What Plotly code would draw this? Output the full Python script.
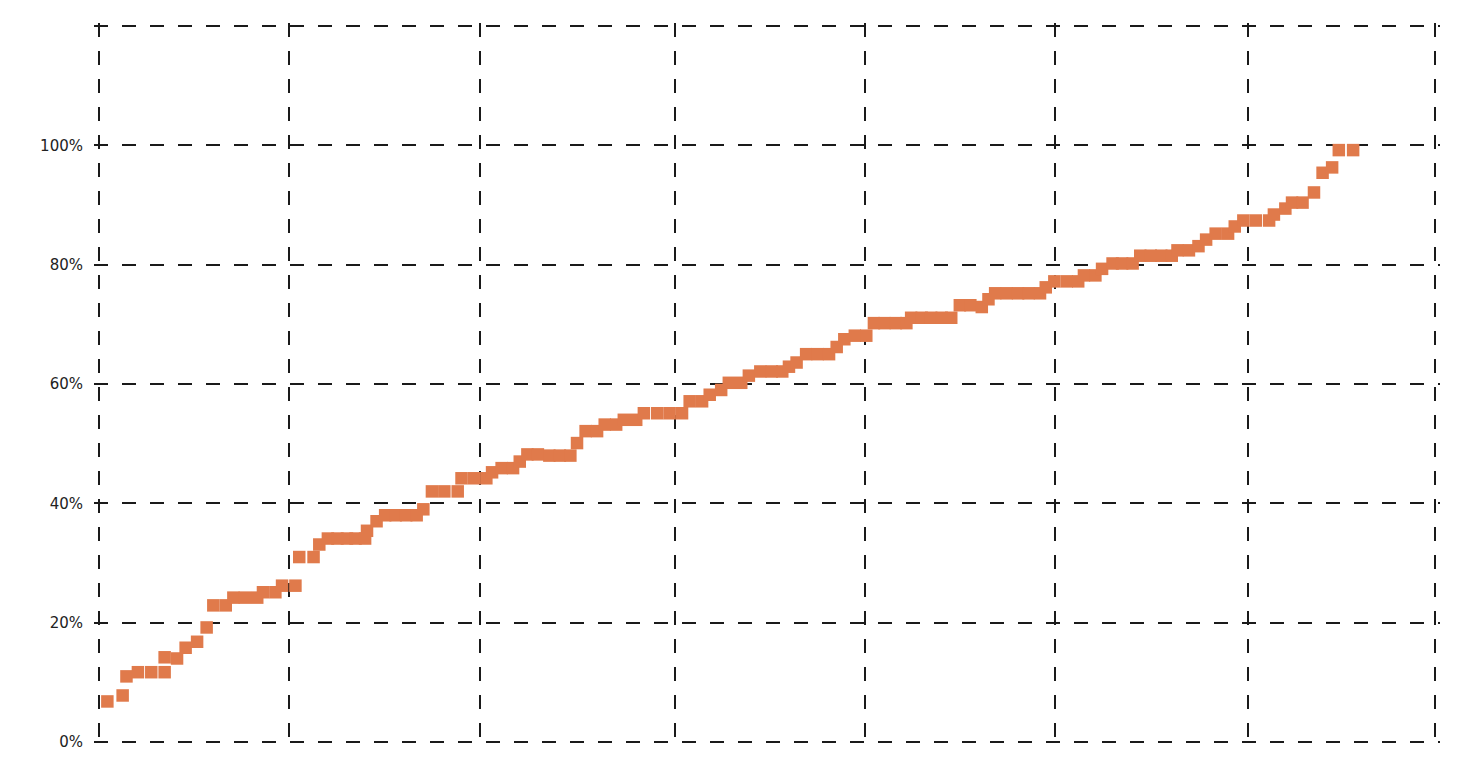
import plotly.graph_objects as go

# x: position along the ranked axis (grid every ~20 units), y: percentage
x_vals = [
    0.9, 2.5, 2.9, 4.1, 5.5, 6.9, 6.9, 8.2, 9.1, 10.3, 11.3,
    12.0, 13.3, 14.1, 15.3, 16.6, 17.2, 18.5, 19.2, 20.6,
    21.0, 22.5, 23.1, 24.0, 25.0, 26.0, 26.9, 27.9, 28.1, 29.1,
    30.0, 31.1, 32.2, 33.3, 34.0, 34.9, 36.2, 37.6, 38.0, 39.3, 40.6,
    41.2, 42.2, 43.4, 44.1, 44.9, 46.0, 47.2, 48.3, 49.4, 50.1,
    51.0, 52.2, 53.0, 54.2, 55.0, 56.3, 57.1, 58.5, 59.8, 61.1,
    61.9, 63.2, 64.0, 65.2, 66.0, 67.3, 68.1, 69.3, 70.5, 71.6,
    72.3, 73.1, 74.1, 75.3, 76.5, 77.3, 78.1, 79.2, 80.4,
    81.2, 82.3, 83.5, 84.6, 85.1, 86.2, 87.2, 88.3, 89.3,
    90.2, 91.3, 92.5, 93.2, 93.9, 95.1, 96.3, 97.4, 98.6, 99.2,
    100.1, 101.4, 102.6, 103.2, 104.4, 105.1, 106.2, 107.2, 108.3,
    109.1, 110.2, 111.3, 112.4, 113.0, 114.2, 115.2, 116.0, 117.0, 118.3,
    119.0, 119.9, 121.2, 122.6, 123.1, 124.3, 125.0, 126.1, 127.3,
    128.2, 129.2, 129.9, 131.4,
]
y_vals = [
    6.8, 7.8, 11.0, 11.7, 11.7, 11.7, 14.2, 14.0, 15.8, 16.8, 19.2,
    22.9, 22.9, 24.2, 24.2, 24.2, 25.1, 25.1, 26.2, 26.2,
    31.0, 31.0, 33.1, 34.1, 34.1, 34.1, 34.1, 34.1, 35.4, 37.0,
    38.0, 38.0, 38.0, 38.0, 39.0, 42.0, 42.0, 42.0, 44.2, 44.2, 44.2,
    45.2, 45.9, 45.9, 47.0, 48.2, 48.2, 48.0, 48.0, 48.0, 50.1,
    52.1, 52.1, 53.2, 53.2, 54.0, 54.0, 55.1, 55.1, 55.1, 55.1,
    57.1, 57.1, 58.2, 59.0, 60.2, 60.2, 61.4, 62.1, 62.1, 62.1,
    62.9, 63.6, 65.0, 65.0, 65.0, 66.2, 67.5, 68.1, 68.1,
    70.2, 70.2, 70.2, 70.2, 71.1, 71.1, 71.1, 71.1, 71.1,
    73.2, 73.2, 72.9, 74.2, 75.2, 75.2, 75.2, 75.2, 75.2, 76.2,
    77.2, 77.2, 77.2, 78.2, 78.2, 79.3, 80.2, 80.2, 80.2,
    81.5, 81.5, 81.5, 81.5, 82.4, 82.4, 83.1, 84.2, 85.2, 85.2,
    86.4, 87.4, 87.4, 87.4, 88.4, 89.4, 90.4, 90.4, 92.1,
    95.4, 96.3, 99.2, 99.2,
]

# x grid positions (the sketch-style grid is slightly uneven)
x_grid_vals = [0, 19.9, 39.9, 60.4, 80.3, 100.2, 120.4, 140]
y_tick_vals = [0, 20, 40, 60, 80, 100, 120]
y_tick_text = ["0%", "20%", "40%", "60%", "80%", "100%", ""]

fig = go.Figure(
    go.Scatter(
        x=x_vals,
        y=y_vals,
        mode="markers",
        marker=dict(symbol="square", size=12.5, color="#E07A4B", line=dict(width=0)),
        hoverinfo="skip",
    )
)

grid = dict(showgrid=True, gridcolor="#1a1a1a", gridwidth=1.5, griddash="14px,14px")

fig.update_layout(
    width=1470,
    height=782,
    margin=dict(l=86, r=38, t=15, b=45, autoexpand=False),
    paper_bgcolor="white",
    plot_bgcolor="white",
    showlegend=False,
    font=dict(family="DejaVu Sans, sans-serif", size=15, color="#222"),
    xaxis=dict(
        range=[-0.5, 140.5],
        tickmode="array",
        tickvals=x_grid_vals,
        showticklabels=False,
        zeroline=False,
        showline=False,
        ticks="",
        **grid,
    ),
    yaxis=dict(
        range=[-0.5, 120.5],
        tickmode="array",
        tickvals=y_tick_vals,
        ticktext=y_tick_text,
        zeroline=False,
        showline=False,
        ticks="",
        ticklabelstandoff=10,
        **grid,
    ),
)

fig.write_html("out.html")
